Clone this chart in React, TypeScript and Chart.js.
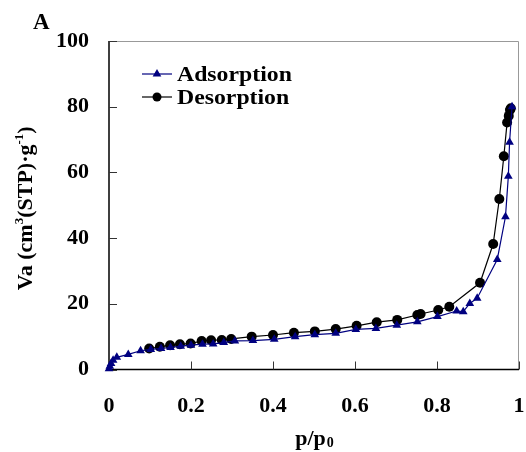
import React, { useEffect, useRef } from "react";
import { Chart, registerables } from "chart.js";

Chart.register(...registerables);

const adsP = [0.0, 0.002, 0.005, 0.01, 0.019, 0.047, 0.077, 0.102, 0.127, 0.15, 0.175, 0.2, 0.228, 0.254, 0.28, 0.307, 0.351, 0.403, 0.454, 0.502, 0.553, 0.602, 0.651, 0.702, 0.752, 0.801, 0.848, 0.864, 0.88, 0.898, 0.947, 0.967, 0.974, 0.977, 0.983];
const adsV = [0.2, 1.0, 1.8, 2.8, 3.7, 4.6, 5.7, 6.1, 6.4, 6.7, 7.1, 7.4, 7.7, 7.8, 8.2, 8.7, 8.8, 9.2, 10.0, 10.6, 11.0, 12.2, 12.5, 13.5, 14.5, 16.1, 17.8, 17.6, 20.1, 21.7, 33.5, 46.5, 58.8, 69.2, 80.0];

const desP = [0.98, 0.978, 0.975, 0.971, 0.963, 0.952, 0.937, 0.905, 0.83, 0.803, 0.76, 0.752, 0.703, 0.653, 0.604, 0.553, 0.502, 0.451, 0.4, 0.348, 0.298, 0.275, 0.249, 0.226, 0.199, 0.173, 0.149, 0.124, 0.098];
const desV = [79.5, 79.0, 77.2, 75.2, 64.9, 51.9, 38.2, 26.4, 19.1, 18.1, 16.9, 16.6, 15.1, 14.4, 13.3, 12.3, 11.6, 11.2, 10.5, 10.0, 9.3, 9.0, 8.9, 8.7, 7.9, 7.7, 7.4, 6.9, 6.4];

const seriesNames = ["Adsorption", "Desorption"];
const xTicks = [0, 0.2, 0.4, 0.6, 0.8, 1];
const yTicks = [0, 20, 40, 60, 80, 100];

const FONT = '"Liberation Serif", "Times New Roman", serif';
const NAVY = "#000080";

const decor = {
  id: "decor",
  beforeDatasetsDraw(chart: any) {
    const { ctx, chartArea: a, scales } = chart;
    const x = scales.x;
    const y = scales.y;
    ctx.save();
    ctx.strokeStyle = "#999999";
    ctx.lineWidth = 1;
    ctx.beginPath();
    ctx.moveTo(a.left, a.top + 0.5);
    ctx.lineTo(a.right - 0.5, a.top + 0.5);
    ctx.lineTo(a.right - 0.5, a.bottom);
    ctx.stroke();
    ctx.strokeStyle = "#000";
    ctx.lineWidth = 1.5;
    ctx.beginPath();
    ctx.moveTo(a.left, a.top);
    ctx.lineTo(a.left, a.bottom);
    ctx.lineTo(a.right, a.bottom);
    ctx.stroke();
    ctx.lineWidth = 1;
    ctx.strokeStyle = "#333";
    ctx.beginPath();
    xTicks.forEach((v) => {
      const px = Math.round(x.getPixelForValue(v)) + 0.5;
      ctx.moveTo(px, a.bottom);
      ctx.lineTo(px, a.bottom - 8);
    });
    yTicks.forEach((v) => {
      const py = Math.round(y.getPixelForValue(v)) + 0.5;
      ctx.moveTo(a.left, py);
      ctx.lineTo(a.left + 8, py);
    });
    ctx.stroke();
    ctx.restore();
  },
  afterDraw(chart: any) {
    const { ctx, chartArea: a } = chart;
    ctx.save();
    ctx.fillStyle = "#000";
    ctx.textBaseline = "alphabetic";
    // Panel letter
    ctx.font = `bold 23px ${FONT}`;
    ctx.textAlign = "left";
    ctx.fillText("A", 33, 29);

    // Legend
    chart.data.datasets.forEach((ds: any, i: number) => {
      const ly = 74 + i * 23;
      ctx.strokeStyle = ds.borderColor;
      ctx.lineWidth = 1.2;
      ctx.beginPath();
      ctx.moveTo(142, ly);
      ctx.lineTo(172, ly);
      ctx.stroke();
      ctx.fillStyle = ds.backgroundColor;
      ctx.beginPath();
      if (ds.pointStyle === "triangle") {
        const r = 5;
        ctx.moveTo(157, ly - r);
        ctx.lineTo(157 + r * 0.866, ly + r * 0.5);
        ctx.lineTo(157 - r * 0.866, ly + r * 0.5);
        ctx.closePath();
      } else {
        ctx.arc(157, ly, 4.5, 0, Math.PI * 2);
      }
      ctx.fill();
      ctx.fillStyle = "#000";
      ctx.font = `bold 22px ${FONT}`;
      ctx.textBaseline = "middle";
      ctx.save();
      ctx.translate(177, ly + 1);
      ctx.scale(1.08, 1);
      ctx.fillText(ds.label, 0, 0);
      ctx.restore();
    });

    // X title with subscript
    ctx.textBaseline = "alphabetic";
    const big = `bold 22px ${FONT}`;
    const small = `bold 14px ${FONT}`;
    ctx.font = big;
    const w1 = ctx.measureText("p/p").width;
    ctx.font = small;
    const w2 = ctx.measureText("0").width;
    const cx = (a.left + a.right) / 2;
    const sx = cx - (w1 + w2) / 2;
    ctx.font = big;
    ctx.fillText("p/p", sx, 445);
    ctx.font = small;
    ctx.fillText("0", sx + w1 + 1, 447);

    // Y title with superscripts
    const segs: [string, boolean][] = [
      ["Va (cm", false],
      ["3", true],
      ["(STP)·g", false],
      ["-1", true],
      [")", false],
    ];
    let total = 0;
    const widths = segs.map(([t, sup]) => {
      ctx.font = sup ? `bold 13px ${FONT}` : `bold 22px ${FONT}`;
      const w = ctx.measureText(t).width;
      total += w;
      return w;
    });
    ctx.translate(32, (a.top + a.bottom) / 2 + 3);
    ctx.rotate(-Math.PI / 2);
    let pos = -total / 2;
    segs.forEach(([t, sup], i) => {
      ctx.font = sup ? `bold 13px ${FONT}` : `bold 22px ${FONT}`;
      ctx.fillText(t, pos, sup ? -9 : 0);
      pos += widths[i];
    });
    ctx.restore();
  },
};

export default function App() {
  const ref = useRef<HTMLCanvasElement | null>(null);
  useEffect(() => {
    if (!ref.current) return;
    const chart = new Chart(ref.current, {
      type: "scatter",
      data: {
        datasets: [
          {
            label: seriesNames[0],
            data: adsP.map((p, i) => ({ x: p, y: adsV[i] })),
            showLine: true,
            borderColor: NAVY,
            backgroundColor: NAVY,
            borderWidth: 1.2,
            pointStyle: "triangle",
            pointRadius: 5,
            pointBorderWidth: 0,
            clip: false,
          },
          {
            label: seriesNames[1],
            data: desP.map((p, i) => ({ x: p, y: desV[i] })),
            showLine: true,
            borderColor: "#000",
            backgroundColor: "#000",
            borderWidth: 1.2,
            pointStyle: "circle",
            pointRadius: 5,
            pointBorderWidth: 0,
            clip: false,
          },
        ],
      },
      options: {
        animation: false,
        responsive: false,
        layout: { padding: { top: 41, right: 7, left: 0, bottom: 0 } },
        plugins: { legend: { display: false }, tooltip: { enabled: false } },
        scales: {
          x: {
            type: "linear",
            min: 0,
            max: 1,
            afterBuildTicks: (s: any) => {
              s.ticks = xTicks.map((v) => ({ value: v }));
            },
            afterFit: (s: any) => {
              s.height = 82.5;
              s.paddingLeft = 0;
              s.paddingRight = 0;
            },
            grid: { display: false, drawTicks: false },
            border: { display: false },
            ticks: {
              padding: 24,
              color: "#000",
              font: { family: FONT, size: 22, weight: "bold" },
              callback: (v: any) => String(Number(v)),
            },
          },
          y: {
            type: "linear",
            min: 0,
            max: 100,
            afterBuildTicks: (s: any) => {
              s.ticks = yTicks.map((v) => ({ value: v }));
            },
            afterFit: (s: any) => {
              s.width = 109;
              s.paddingTop = 0;
              s.paddingBottom = 0;
            },
            grid: { display: false, drawTicks: false },
            border: { display: false },
            ticks: {
              padding: 20,
              color: "#000",
              font: { family: FONT, size: 22, weight: "bold" },
              callback: (v: any) => String(v),
            },
          },
        },
      },
      plugins: [decor],
    } as any);
    return () => chart.destroy();
  }, []);
  return (
    <div style={{ position: "fixed", left: 0, top: 0, width: 526, height: 452, background: "#fff" }}>
      <canvas ref={ref} width={526} height={452} style={{ display: "block" }} />
    </div>
  );
}
